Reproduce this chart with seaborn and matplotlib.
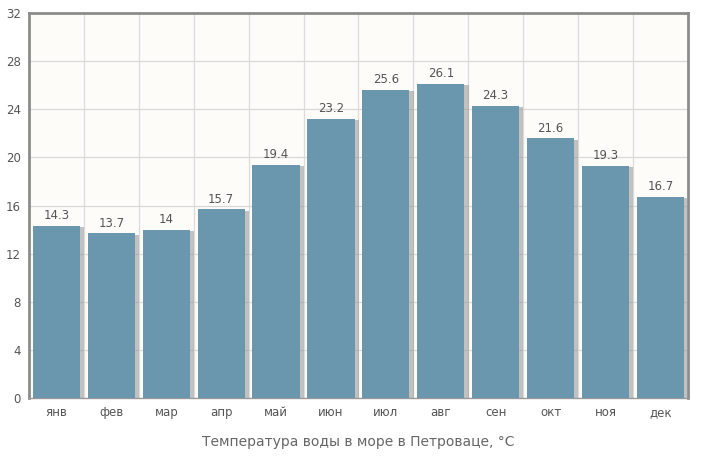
import numpy as np
import pandas as pd
import matplotlib
matplotlib.use("Agg")
import matplotlib.pyplot as plt
import matplotlib.patheffects as pe
import seaborn as sns

months = ["янв", "фев", "мар", "апр", "май", "июн", "июл", "авг", "сен", "окт", "ноя", "дек"]
temps = [14.3, 13.7, 14, 15.7, 19.4, 23.2, 25.6, 26.1, 24.3, 21.6, 19.3, 16.7]
labels = ["14.3", "13.7", "14", "15.7", "19.4", "23.2", "25.6", "26.1", "24.3", "21.6", "19.3", "16.7"]
yticks = [0, 4, 8, 12, 16, 20, 24, 28, 32]

df = pd.DataFrame({"month": months, "temp": temps})

sns.set_style("white")
plt.rcParams["font.family"] = ["DejaVu Sans"]

fig = plt.figure(figsize=(7.15, 4.57), dpi=100)
ax = fig.add_axes([0.0406, 0.129, 0.9214, 0.8426])
ax.set_facecolor("#fdfcf8")

sns.barplot(data=df, x="month", y="temp", color="#6a97ad", saturation=1,
            width=0.86, linewidth=0, ax=ax, zorder=3)

for bar in ax.patches:
    bar.set_path_effects([pe.SimplePatchShadow(offset=(3, -1), shadow_rgbFace="#9a9a9a", alpha=0.6),
                          pe.Normal()])

for i, (v, t) in enumerate(zip(temps, labels)):
    ax.text(i, v + 0.3, t, ha="center", va="bottom", fontsize=8.5, color="#555555", zorder=4)

ax.set_xlim(-0.5, len(months) - 0.5)
ax.set_ylim(0, 32)
ax.set_yticks(yticks)
ax.set_yticklabels([str(y) for y in yticks])

# grid: vertical lines sit on category boundaries
bounds = np.arange(len(months) + 1) - 0.5
for b in bounds[1:-1]:
    ax.axvline(b, color="#dcdcdc", lw=0.9, zorder=1)
for y in yticks[1:-1]:
    ax.axhline(y, color="#d8d8d8", lw=0.9, zorder=1)

ax.set_xticks(np.arange(len(months)))
ax.set_xticklabels(months)
ax.set_xticks(bounds, minor=True)
ax.tick_params(axis="x", which="major", length=0, pad=6, labelsize=8.5, labelcolor="#555555")
ax.tick_params(axis="x", which="minor", length=4, color="#999999")
ax.tick_params(axis="y", length=4, color="#999999", pad=2, labelsize=8.5, labelcolor="#555555")

for side in ["left", "top", "right"]:
    ax.spines[side].set_color("#8c8c8c")
    ax.spines[side].set_linewidth(2)
ax.spines["bottom"].set_color("#999999")
ax.spines["bottom"].set_linewidth(1)

ax.set_ylabel("")
ax.set_xlabel("Температура воды в море в Петроваце, °C", fontsize=10, color="#666666", labelpad=11)

fig.savefig("out.png", dpi=100, facecolor="white")
